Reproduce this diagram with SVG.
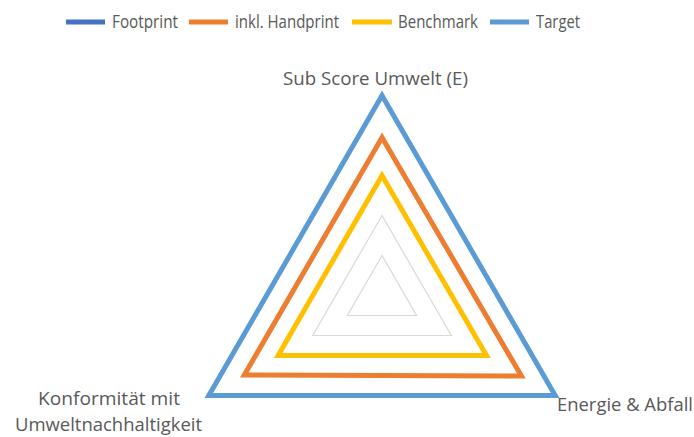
<svg xmlns="http://www.w3.org/2000/svg" width="694" height="437" viewBox="0 0 694 437">
<style>
.t{font-family:"Open Sans","Liberation Sans",sans-serif;font-size:18px;fill:#595959}
.grid{fill:none;stroke:#d9d9d9;stroke-width:1.2}
.s{fill:none;stroke-width:5;stroke-linejoin:miter;stroke-miterlimit:10}
.lg{stroke-width:5}
</style>
<rect width="694" height="437" fill="#ffffff"/>
<g id="legend">
<line class="lg" x1="66" y1="22" x2="105" y2="22" stroke="#4472C4"/>
<text class="t" x="112" y="28" textLength="66" lengthAdjust="spacingAndGlyphs">Footprint</text>
<line class="lg" x1="189" y1="22" x2="228" y2="22" stroke="#ED7D31"/>
<text class="t" x="235" y="28" textLength="104" lengthAdjust="spacingAndGlyphs">inkl. Handprint</text>
<line class="lg" x1="352" y1="22" x2="392" y2="22" stroke="#FFC000"/>
<text class="t" x="398" y="28" textLength="80" lengthAdjust="spacingAndGlyphs">Benchmark</text>
<line class="lg" x1="490" y1="22" x2="529" y2="22" stroke="#5B9BD5"/>
<text class="t" x="536" y="28" textLength="44" lengthAdjust="spacingAndGlyphs">Target</text>
</g>
<g id="grid">
<polygon class="grid" points="382,255.5 347.4,315.5 416.6,315.5"/>
<polygon class="grid" points="382,215.5 312.7,335.5 451.3,335.5"/>
<polygon class="grid" points="382,175.5 278.1,355.5 485.9,355.5"/>
<polygon class="grid" points="382,135.5 243.4,375.5 520.6,375.5"/>
<polygon class="grid" points="382,95.5 208.8,395.5 555.2,395.5"/>
</g>
<g id="connectors">
<polygon id="series-target" class="s" stroke="#5B9BD5" points="382,95.5 208.8,395.5 555.2,395.5"/>
<polygon id="series-handprint" class="s" stroke="#ED7D31" points="382,137.5 244.3,375 521.4,376"/>
<polygon id="series-benchmark" class="s" stroke="#FFC000" points="382,175.5 278.1,355.5 486.5,355.5"/>
</g>
<g id="axis-top">
<text class="t" x="283" y="85" textLength="185" lengthAdjust="spacingAndGlyphs">Sub Score Umwelt (E)</text>
</g>
<g id="axis-right">
<text class="t" x="557" y="411" textLength="136" lengthAdjust="spacingAndGlyphs">Energie &amp; Abfall</text>
</g>
<g id="axis-left">
<text class="t" x="38" y="405" textLength="142" lengthAdjust="spacingAndGlyphs">Konformität mit</text>
<text class="t" x="15" y="431" textLength="187" lengthAdjust="spacingAndGlyphs">Umweltnachhaltigkeit</text>
</g>
</svg>
